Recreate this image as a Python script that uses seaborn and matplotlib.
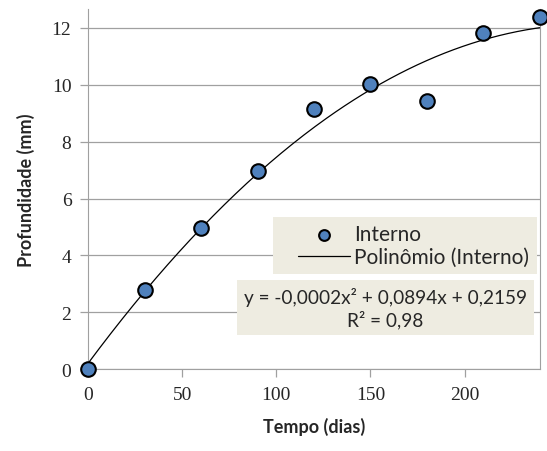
import numpy as np
import pandas as pd
from matplotlib import pyplot as plt
from matplotlib.patches import Rectangle
import seaborn as sns

tempo = [0, 30, 60, 90, 120, 150, 180, 210, 240]
profundidade = [0.0, 2.8, 4.97, 6.97, 9.15, 10.03, 9.43, 11.83, 12.37]
x_ticks = [0, 50, 100, 150, 200]
y_ticks = [0, 2, 4, 6, 8, 10, 12]

df = pd.DataFrame({'tempo': tempo, 'prof': profundidade})

sns.set_style('white')
plt.rcParams['font.family'] = ['Lato', 'DejaVu Sans']

fig = plt.figure(figsize=(5.47, 4.52), dpi=100)
ax = fig.add_axes([0.161, 0.181, 0.826, 0.797])

# trend line (2nd order polynomial, as Excel)
coef = np.polyfit(df['tempo'], df['prof'], 2)
xs = np.linspace(0, 240, 200)
trend = pd.DataFrame({'tempo': xs, 'prof': np.polyval(coef, xs)})
sns.lineplot(data=trend, x='tempo', y='prof', ax=ax, color='black', linewidth=0.9,
             label='Polinômio (Interno)', zorder=2)
sns.scatterplot(data=df, x='tempo', y='prof', ax=ax, color='#4f81bd', edgecolor='black',
                linewidth=1.5, s=110, label='Interno', zorder=3, clip_on=False)

ax.set_xlim(0, 240)
ax.set_ylim(0, 12.67)
ax.set_xticks(x_ticks)
ax.set_yticks(y_ticks)
ax.grid(axis='y', color='#a0a0a0', linewidth=0.9)
ax.spines['top'].set_visible(False)
for side in ['left', 'bottom', 'right']:
    ax.spines[side].set_color('#a0a0a0')
ax.tick_params(axis='both', direction='out', length=6, color='#a0a0a0', width=0.9,
               labelsize=14, pad=6, left=True, bottom=True)
for lab in ax.get_xticklabels() + ax.get_yticklabels():
    lab.set_family(['Liberation Serif', 'DejaVu Serif'])
ax.set_xlabel('Tempo (dias)', fontsize=13, fontweight='bold', labelpad=10)
ax.set_ylabel('Profundidade (mm)', fontsize=13, fontweight='bold', labelpad=12)

# legend background box
ax.add_patch(Rectangle((0.409, 0.264), 0.584, 0.158, transform=ax.transAxes,
                       facecolor='#eeece1', edgecolor='none', zorder=4))

h, l = ax.get_legend_handles_labels()
order = [l.index('Interno'), l.index('Polinômio (Interno)')]
leg = ax.legend([h[i] for i in order], [l[i] for i in order], loc='center right',
                bbox_to_anchor=(0.977, 0.343), frameon=False, fontsize=15,
                handlelength=2.5, borderpad=0.0, labelspacing=0.15, handletextpad=0.2,
                borderaxespad=0)
leg.set_zorder(5)
leg.legend_handles[0].set_sizes([60])

ax.text(0.658, 0.171, 'y = -0,0002x² + 0,0894x + 0,2159\nR² = 0,98', transform=ax.transAxes,
        ha='center', va='center', fontsize=13.7, linespacing=1.25,
        bbox=dict(boxstyle='square,pad=0.35', facecolor='#eeece1', edgecolor='none'))

fig.savefig('out.png', dpi=100)
